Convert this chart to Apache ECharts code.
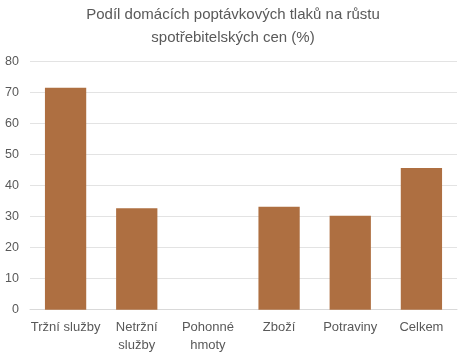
<!DOCTYPE html>
<html><head><meta charset="utf-8">
<script src="https://cdn.jsdelivr.net/npm/echarts@6/dist/echarts.min.js"></script>
<style>html,body{margin:0;padding:0;background:#fff}#c{width:466px;height:360px}</style>
</head><body><div id="c"></div>
<script>
const categories = ['Tržní služby', 'Netržní\nslužby', 'Pohonné\nhmoty', 'Zboží', 'Potraviny', 'Celkem'];
const values = [71.6, 32.7, 0, 33.2, 30.3, 45.7];
const yTicks = { min: 0, max: 80, interval: 10 };

const chart = echarts.init(document.getElementById('c'), null, { renderer: 'canvas' });
chart.setOption({
  animation: false,
  title: {
    text: 'Podíl domácích poptávkových tlaků na růstu\nspotřebitelských cen (%)',
    left: 'center', top: 3.5, padding: 0,
    textStyle: { fontFamily: 'Liberation Sans', fontSize: 15, fontWeight: 'normal', color: '#595959', lineHeight: 23 }
  },
  grid: { left: 30, right: 9, top: 61.7, bottom: 50.3, containLabel: false },
  xAxis: {
    type: 'category', data: categories,
    axisLine: { show: true, lineStyle: { color: '#d9d9d9' } },
    axisTick: { show: false },
    axisLabel: { fontFamily: 'Liberation Sans', fontSize: 13, color: '#595959', margin: 9, lineHeight: 18, interval: 0 }
  },
  yAxis: {
    type: 'value', min: yTicks.min, max: yTicks.max, interval: yTicks.interval,
    axisLine: { show: false }, axisTick: { show: false },
    splitLine: { lineStyle: { color: '#e3e3e3' } },
    axisLabel: { fontFamily: 'Liberation Sans', fontSize: 12.5, color: '#595959', margin: 11 }
  },
  series: [{
    type: 'bar', data: values, barWidth: '58%',
    itemStyle: { color: '#AE6F41' }
  }]
});
</script></body></html>
